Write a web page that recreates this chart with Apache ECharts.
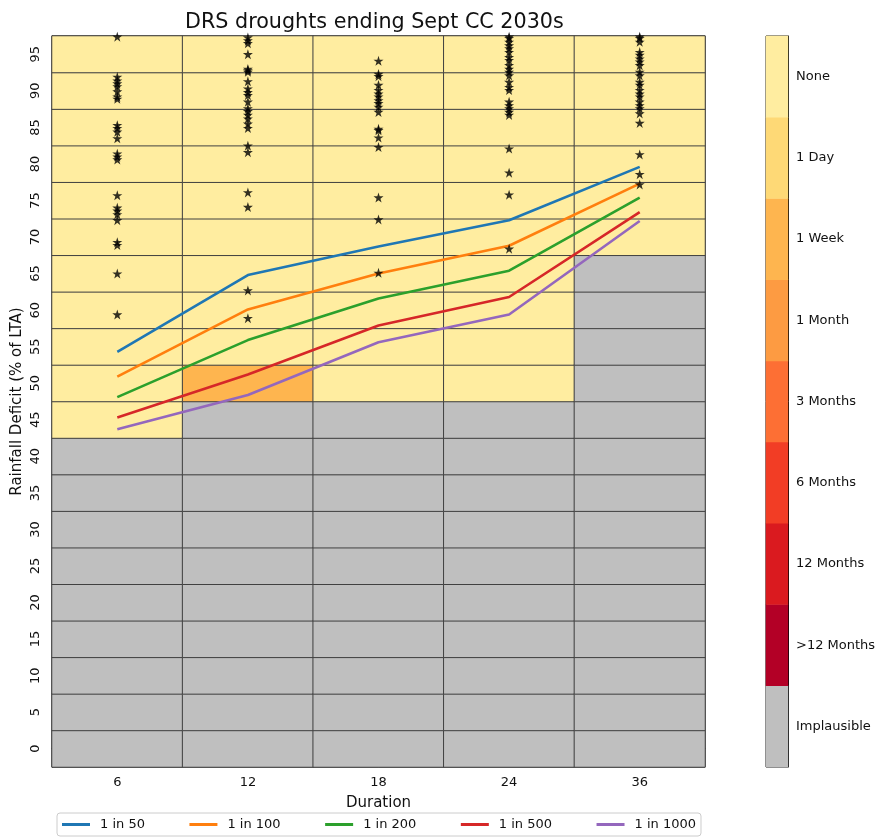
<!DOCTYPE html>
<html><head><meta charset="utf-8">
<script src="https://cdn.jsdelivr.net/npm/echarts@6/dist/echarts.min.js"></script>
<style>html,body{margin:0;padding:0;background:#fff}#chart{width:880px;height:838px}</style>
</head><body><div id="chart"></div>
<script>
const durations = ['6', '12', '18', '24', '36'];
const deficitTicks = ['0','5','10','15','20','25','30','35','40','45','50','55','60','65','70','75','80','85','90','95'];
const statusLabels = ['Implausible', '>12 Months', '12 Months', '6 Months', '3 Months', '1 Month', '1 Week', '1 Day', 'None'];
const statusColors = ['#bfbfbf', '#b30026', '#da1a1f', '#f23d25', '#fd6f34', '#fd9b42', '#feb54f', '#fed976', '#ffeda0'];

// status index (into statusLabels) for each deficit level 0..95, one list per duration
const status6  = [0,0,0,0,0,0,0,0,0,8,8,8,8,8,8,8,8,8,8,8];
const status12 = [0,0,0,0,0,0,0,0,0,0,6,8,8,8,8,8,8,8,8,8];
const status18 = [0,0,0,0,0,0,0,0,0,0,8,8,8,8,8,8,8,8,8,8];
const status24 = [0,0,0,0,0,0,0,0,0,0,8,8,8,8,8,8,8,8,8,8];
const status36 = [0,0,0,0,0,0,0,0,0,0,0,0,0,0,8,8,8,8,8,8];

const seriesNames = ['1 in 50', '1 in 100', '1 in 200', '1 in 500', '1 in 1000'];
const seriesColors = ['#1f77b4', '#ff7f0e', '#2ca02c', '#d62728', '#9467bd'];
const rp50   = [54.3, 64.8, 68.7, 72.3, 79.6];
const rp100  = [50.9, 60.1, 65.0, 68.8, 77.3];
const rp200  = [48.1, 55.9, 61.6, 65.4, 75.4];
const rp500  = [45.3, 51.2, 57.9, 61.8, 73.4];
const rp1000 = [43.7, 48.4, 55.6, 59.4, 72.2];

// drought events (stars), per duration
const stars6  = [97.4, 91.9, 91.4, 91.0, 90.6, 89.9, 89.2, 88.9, 85.3, 84.9, 84.4, 83.5, 81.4, 81.0, 80.6, 75.7, 74.0, 73.6, 73.1, 72.3, 69.3, 68.9, 65.0, 59.4];
const stars12 = [97.3, 96.9, 96.5, 95.0, 93.0, 92.8, 92.6, 91.3, 90.3, 89.8, 89.4, 88.5, 87.6, 87.2, 86.7, 86.2, 85.5, 84.9, 82.5, 81.6, 76.1, 74.1, 62.7, 58.9];
const stars18 = [94.1, 92.3, 92.0, 90.8, 90.1, 89.6, 89.2, 88.7, 88.3, 87.8, 87.1, 84.8, 84.6, 83.6, 82.3, 75.4, 72.4, 65.1];
const stars24 = [97.4, 97.2, 96.7, 96.2, 95.8, 95.3, 94.6, 94.2, 93.5, 93.0, 92.6, 92.1, 91.2, 90.5, 90.1, 88.5, 88.0, 87.6, 87.1, 86.7, 82.1, 78.8, 75.8, 68.4];
const stars36 = [97.4, 97.2, 96.7, 95.3, 94.9, 94.4, 94.0, 93.5, 92.6, 92.1, 91.2, 90.8, 90.1, 89.6, 89.2, 88.5, 88.0, 87.6, 86.9, 85.6, 81.3, 78.6, 77.2];

const statusGrid = [status6, status12, status18, status24, status36];
const lineValues = [rp50, rp100, rp200, rp500, rp1000];
const starGroups = [stars6, stars12, stars18, stars24, stars36];

const heatData = [];
statusGrid.forEach((col, d) => col.forEach((s, l) => heatData.push([d, l, s])));
const starData = [];
starGroups.forEach((g, d) => g.forEach(v => starData.push([durations[d], v])));
const barData = statusLabels.map((_, i) => [0, i, i]);

const FONT = 'DejaVu Sans';
const STAR = 'path://M50,0 L61.2,34.5 L97.6,34.5 L68.2,55.9 L79.4,90.5 L50,69.1 L20.6,90.5 L31.8,55.9 L2.4,34.5 L38.8,34.5 Z';

const chart = echarts.init(document.getElementById('chart'), null, {renderer: 'canvas'});
chart.setOption({
  animation: false,
  backgroundColor: '#fff',
  textStyle: {fontFamily: FONT},
  title: {
    text: 'DRS droughts ending Sept CC 2030s',
    left: 185, top: 12, padding: 0,
    textStyle: {fontFamily: FONT, fontSize: 20.7, fontWeight: 'normal', color: '#111'}
  },
  legend: {
    data: seriesNames,
    left: 57, top: 813,
    icon: 'rect', itemWidth: 28, itemHeight: 3, itemGap: 44.5,
    padding: [5, 5, 5, 5],
    borderColor: '#cccccc', borderWidth: 1, borderRadius: 3,
    textStyle: {fontFamily: FONT, fontSize: 13, color: '#111', padding: [0, 0, 0, 5], lineHeight: 13}
  },
  visualMap: {
    type: 'piecewise', show: false, dimension: 2, seriesIndex: [0, 7],
    pieces: statusColors.map((c, i) => ({value: i, color: c}))
  },
  grid: [
    {left: 52, top: 36, width: 653, height: 731, show: true, borderColor: '#000', borderWidth: 1,
     backgroundColor: 'transparent', containLabel: false, outerBoundsMode: 'none'},
    {left: 766, top: 36, width: 22, height: 731, show: true, borderColor: '#000', borderWidth: 1,
     backgroundColor: 'transparent', containLabel: false, outerBoundsMode: 'none'}
  ],
  xAxis: [
    {
      type: 'category', gridIndex: 0, data: durations,
      name: 'Duration', nameLocation: 'middle', nameGap: 29, nameMoveOverlap: false,
      nameTextStyle: {fontFamily: FONT, fontSize: 15, color: '#111'},
      axisLine: {lineStyle: {color: '#000'}},
      axisTick: {alignWithLabel: true, length: 4, lineStyle: {color: '#000'}},
      axisLabel: {fontFamily: FONT, fontSize: 13, color: '#111', margin: 9},
      splitLine: {show: false}
    },
    {type: 'category', gridIndex: 1, data: [''], show: false}
  ],
  yAxis: [
    {
      type: 'category', gridIndex: 0, data: deficitTicks,
      name: 'Rainfall Deficit (% of LTA)', nameLocation: 'middle', nameGap: 27, nameMoveOverlap: false,
      nameTextStyle: {fontFamily: FONT, fontSize: 15, color: '#111'},
      axisLine: {lineStyle: {color: '#000'}},
      axisTick: {alignWithLabel: true, length: 4, lineStyle: {color: '#000'}},
      axisLabel: {fontFamily: FONT, fontSize: 13, color: '#111', rotate: 90, margin: 10},
      splitLine: {show: false}
    },
    {type: 'value', gridIndex: 0, min: -2.5, max: 97.5, show: false},
    {
      type: 'category', gridIndex: 1, data: statusLabels, position: 'right',
      axisLine: {lineStyle: {color: '#000'}},
      axisTick: {alignWithLabel: true, length: 4, lineStyle: {color: '#000'}},
      axisLabel: {fontFamily: FONT, fontSize: 13, color: '#111', margin: 8},
      splitLine: {show: false}
    }
  ],
  series: [
    {
      type: 'heatmap', xAxisIndex: 0, yAxisIndex: 0, data: heatData, z: 1,
      itemStyle: {borderColor: '#404040', borderWidth: 1},
      emphasis: {disabled: true}, silent: true
    },
    ...seriesNames.map((n, i) => ({
      name: n, type: 'line', xAxisIndex: 0, yAxisIndex: 1,
      data: lineValues[i], showSymbol: false, z: 3,
      lineStyle: {color: seriesColors[i], width: 2.6},
      itemStyle: {color: seriesColors[i]}
    })),
    {
      type: 'scatter', xAxisIndex: 0, yAxisIndex: 1, data: starData, z: 4,
      symbol: STAR, symbolSize: 10, itemStyle: {color: '#000'}, silent: true
    },
    {
      type: 'heatmap', xAxisIndex: 1, yAxisIndex: 2, data: barData, z: 1,
      emphasis: {disabled: true}, silent: true
    }
  ]
});
</script></body></html>
